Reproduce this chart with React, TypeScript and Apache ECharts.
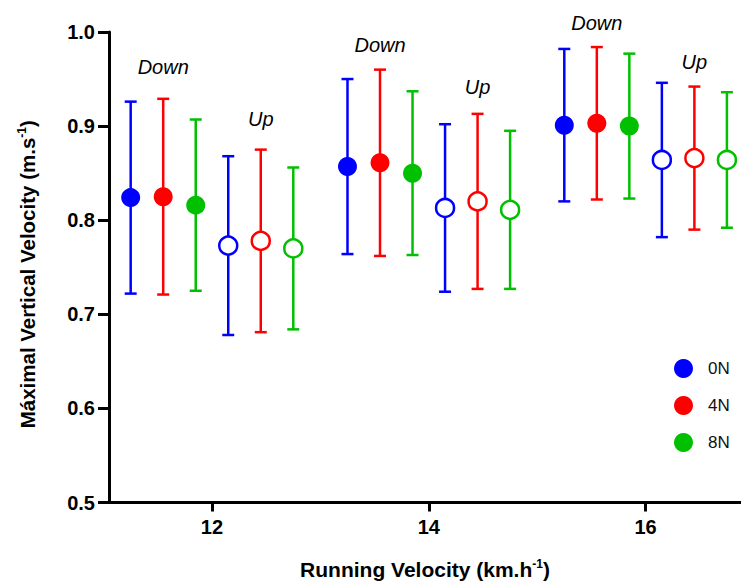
import React, { useEffect, useRef } from "react";
import * as echarts from "echarts";

// Running speeds (km/h) and external loads
const speeds = [12, 14, 16];
const loads = ["0N", "4N", "8N"];
const loadColors = ["#0000FF", "#FF0000", "#00C000"];

// Downhill running: mean and SD of maximal vertical velocity (m/s), one row per load
const downMean = [
  [0.824, 0.857, 0.901],
  [0.825, 0.861, 0.903],
  [0.816, 0.850, 0.900],
];
const downSD = [
  [0.102, 0.093, 0.081],
  [0.104, 0.099, 0.081],
  [0.091, 0.087, 0.077],
];

// Uphill running: mean and SD, one row per load
const upMean = [
  [0.773, 0.813, 0.864],
  [0.778, 0.820, 0.866],
  [0.770, 0.811, 0.864],
];
const upSD = [
  [0.095, 0.089, 0.082],
  [0.097, 0.093, 0.076],
  [0.086, 0.084, 0.072],
];

// Italic phase notes written above each cluster: [x, y, text]
const phaseNotes: [number, number, string][] = [
  [11.55, 0.963, "Down"],
  [12.45, 0.908, "Up"],
  [13.55, 0.986, "Down"],
  [14.45, 0.942, "Up"],
  [15.55, 1.01, "Down"],
  [16.45, 0.968, "Up"],
];

const yTicks = [0.5, 0.6, 0.7, 0.8, 0.9, 1.0];

// horizontal dodge of each load inside a downhill / uphill cluster
const downDodge = [-0.75, -0.45, -0.15];
const upDodge = [0.15, 0.45, 0.75];

const FONT = 'Arial, "Liberation Sans", Helvetica, sans-serif';

export default function App() {
  const ref = useRef<HTMLDivElement>(null);

  useEffect(() => {
    if (!ref.current) return;
    const chart = echarts.init(ref.current, null, { renderer: "svg" });

    const pointSeries: any[] = [];
    const barSeries: any[] = [];

    const addGroup = (
      means: number[][],
      sds: number[][],
      dodge: number[],
      filled: boolean
    ) => {
      loads.forEach((load, li) => {
        const color = loadColors[li];
        const pts = speeds.map((s, si) => [s + dodge[li], means[li][si]]);
        const bars = speeds.map((s, si) => [
          s + dodge[li],
          means[li][si] - sds[li][si],
          means[li][si] + sds[li][si],
        ]);
        pointSeries.push({
          type: "scatter",
          name: load,
          data: pts,
          symbol: "circle",
          symbolSize: filled ? 19 : 18,
          z: 3,
          itemStyle: filled
            ? { color, opacity: 1 }
            : { color: "#FFFFFF", borderColor: color, borderWidth: 2.5, opacity: 1 },
        });
        barSeries.push({
          type: "custom",
          name: load,
          data: bars,
          z: 2,
          renderItem: (params: any, api: any) => {
            const x = api.value(0);
            const lo = api.coord([x, api.value(1)]);
            const hi = api.coord([x, api.value(2)]);
            const cap = 6;
            const style = { stroke: color, lineWidth: 2.5 };
            return {
              type: "group",
              children: [
                { type: "line", shape: { x1: lo[0], y1: lo[1], x2: hi[0], y2: hi[1] }, style },
                { type: "line", shape: { x1: hi[0] - cap, y1: hi[1], x2: hi[0] + cap, y2: hi[1] }, style },
                { type: "line", shape: { x1: lo[0] - cap, y1: lo[1], x2: lo[0] + cap, y2: lo[1] }, style },
              ],
            };
          },
        });
      });
    };

    addGroup(downMean, downSD, downDodge, true);
    addGroup(upMean, upSD, upDodge, false);

    const axisLineStyle = { color: "#000", width: 3 };

    chart.setOption({
      animation: false,
      backgroundColor: "#FFFFFF",
      textStyle: { fontFamily: FONT },
      grid: { left: 109, right: 0, top: 32, bottom: 80, containLabel: false },
      legend: {
        data: loads,
        orient: "vertical",
        left: 669,
        top: 354,
        icon: "circle",
        itemWidth: 19,
        itemHeight: 19,
        itemGap: 18,
        selectedMode: false,
        textStyle: { fontFamily: FONT, fontSize: 17, color: "#111", padding: [0, 0, 0, 10] },
      },
      xAxis: {
        type: "value",
        min: 11.05,
        max: 16.88,
        splitLine: { show: false },
        axisLine: { show: true, lineStyle: axisLineStyle },
        axisTick: { show: true, length: 9, lineStyle: { color: "#000", width: 3 }, customValues: speeds },
        axisLabel: {
          customValues: speeds,
          margin: 14,
          fontSize: 20,
          fontWeight: "bold",
          color: "#000",
          fontFamily: FONT,
        },
        name: "Running Velocity (km.h{sup|-1})",
        nameLocation: "middle",
        nameGap: 55,
        nameTextStyle: {
          fontSize: 21,
          fontWeight: "bold",
          color: "#000",
          fontFamily: FONT,
          rich: {
            sup: { fontSize: 12, fontWeight: "bold", color: "#000", fontFamily: FONT, verticalAlign: "top", lineHeight: 24 },
          },
        },
      },
      yAxis: {
        type: "value",
        min: 0.5,
        max: 1.0,
        interval: 0.1,
        splitLine: { show: false },
        axisLine: { show: true, lineStyle: axisLineStyle },
        axisTick: { show: true, length: 11, lineStyle: { color: "#000", width: 3 }, customValues: yTicks },
        axisLabel: {
          customValues: yTicks,
          formatter: (v: number) => v.toFixed(1),
          margin: 14,
          fontSize: 20,
          fontWeight: "bold",
          color: "#000",
          fontFamily: FONT,
        },
        name: "Máximal Vertical Velocity (m.s{sup|-1})",
        nameLocation: "middle",
        nameGap: 70,
        nameTextStyle: {
          fontSize: 20.5,
          fontWeight: "bold",
          color: "#000",
          fontFamily: FONT,
          padding: [0, 14, 0, 0],
          rich: {
            sup: { fontSize: 12, fontWeight: "bold", color: "#000", fontFamily: FONT, verticalAlign: "top", lineHeight: 23 },
          },
        },
      },
      series: [
        ...pointSeries,
        ...barSeries,
        {
          type: "scatter",
          name: "phase",
          data: phaseNotes,
          symbolSize: 0,
          silent: true,
          clip: false,
          z: 4,
          itemStyle: { opacity: 1 },
          label: {
            show: true,
            position: "inside",
            formatter: (p: any) => p.value[2],
            fontSize: 20,
            fontStyle: "italic",
            color: "#000",
            fontFamily: FONT,
          },
        },
      ],
    });

    return () => chart.dispose();
  }, []);

  return (
    <div
      ref={ref}
      style={{ position: "absolute", left: 0, top: 0, width: 741, height: 585 }}
    />
  );
}
